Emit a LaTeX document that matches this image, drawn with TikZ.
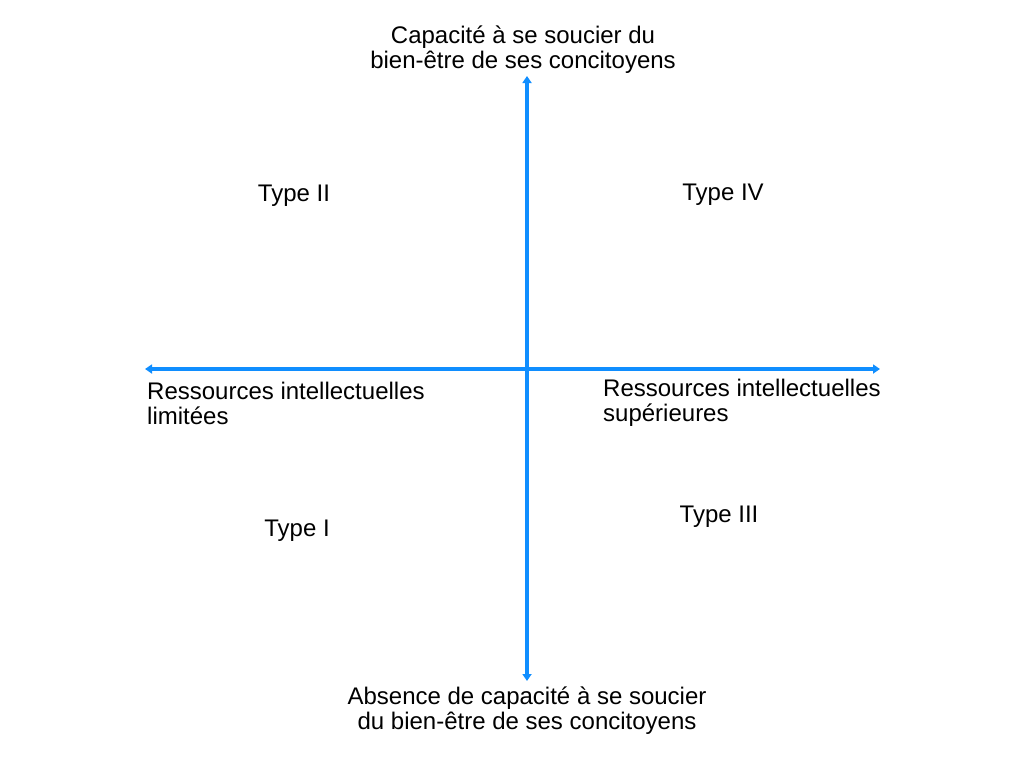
\documentclass[tikz,border=0pt]{standalone}
\usepackage{fontspec}
\setmainfont{Liberation Sans}
\usetikzlibrary{arrows.meta}
\definecolor{axisblue}{RGB}{16,142,255}
\begin{document}
\begin{tikzpicture}[x=1pt,y=-1pt,
  axis/.style={draw=axisblue,line width=4pt,{Triangle[length=7pt,width=9pt]}-{Triangle[length=7pt,width=9pt]}},
  lbl/.style={inner sep=0pt,font=\fontsize{24}{25}\selectfont,text=black}]
\useasboundingbox[fill=white] (0,0) rectangle (1024,768);
\coordinate (top) at (527,76);
\coordinate (bot) at (527,681);
\coordinate (lft) at (145,369);
\coordinate (rgt) at (880,369);
\draw[axis] (bot) -- (top);
\draw[axis] (lft) -- (rgt);
\node[lbl,align=center] (tlab) at (523,50) {Capacité à se soucier du\\bien-être de ses concitoyens};
\node[lbl,align=center] (blab) at (527,710.5) {Absence de capacité à se soucier\\du bien-être de ses concitoyens};
\node[lbl,align=left,anchor=west] (llab) at (147,403.5) {Ressources intellectuelles\\limitées};
\node[lbl,align=left,anchor=west] (rlab) at (603,403) {Ressources intellectuelles\\supérieures};
\node[lbl] (t2) at (294,196) {Type II};
\node[lbl] (t4) at (723,195) {Type IV};
\node[lbl] (t1) at (297,531) {Type I};
\node[lbl] (t3) at (719,517) {Type III};
\end{tikzpicture}
\end{document}
